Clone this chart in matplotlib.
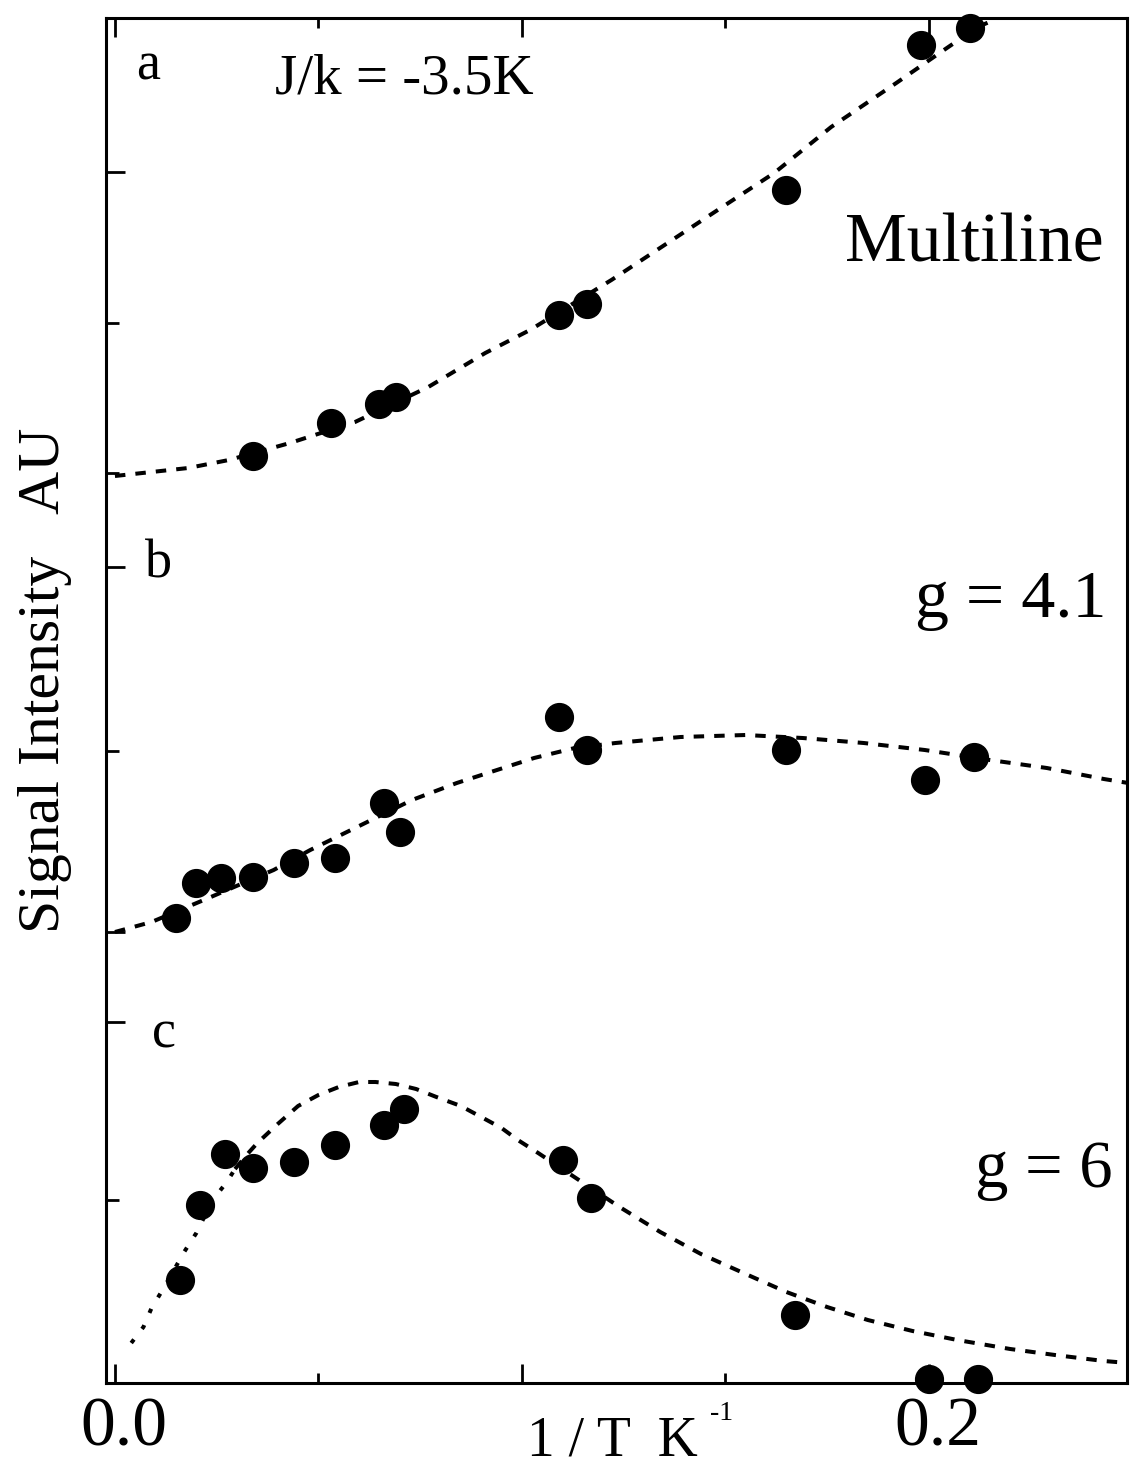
import numpy as np
import matplotlib.pyplot as plt
from matplotlib.transforms import ScaledTranslation

plt.rcParams['font.family'] = ['Liberation Serif', 'DejaVu Serif']

# 1/T (K^-1) and signal intensity above each panel's own baseline
a_x = [0.034, 0.053, 0.065, 0.069, 0.109, 0.116, 0.165, 0.198, 0.210]
a_y = [0.20, 0.53, 0.72, 0.79, 1.61, 1.72, 2.86, 4.31, 4.48]
a_fit_x = [0.0, 0.018, 0.028, 0.043, 0.059, 0.077, 0.091, 0.102, 0.122,
           0.147, 0.162, 0.176, 0.192, 0.203, 0.212, 0.216]
a_fit_y = [0.0, 0.08, 0.16, 0.33, 0.54, 0.89, 1.23, 1.46, 1.96,
           2.63, 3.03, 3.49, 3.93, 4.24, 4.49, 4.56]

b_x = [0.015, 0.020, 0.026, 0.034, 0.044, 0.054, 0.066, 0.070, 0.109,
       0.116, 0.165, 0.199, 0.211]
b_y = [0.14, 0.49, 0.54, 0.55, 0.69, 0.74, 1.29, 1.00, 2.15,
       1.82, 1.82, 1.52, 1.75]
b_fit_x = [0.0, 0.009, 0.023, 0.039, 0.048, 0.059, 0.073, 0.084, 0.103, 0.113,
           0.123, 0.139, 0.155, 0.169, 0.184, 0.199, 0.215, 0.229, 0.243, 0.249]
b_fit_y = [0.0, 0.10, 0.34, 0.62, 0.82, 1.04, 1.32, 1.49, 1.74, 1.84,
           1.89, 1.95, 1.97, 1.94, 1.89, 1.82, 1.72, 1.64, 1.53, 1.49]

c_x = [0.016, 0.021, 0.027, 0.034, 0.044, 0.054, 0.066, 0.071, 0.110,
       0.117, 0.167, 0.200, 0.212]
c_y = [1.03, 1.78, 2.29, 2.15, 2.21, 2.38, 2.58, 2.74, 2.23,
       1.85, 0.68, 0.04, 0.04]
c_fit_x = [0.004, 0.007, 0.009, 0.012, 0.017, 0.020, 0.024, 0.0275, 0.0295,
           0.033, 0.035, 0.040, 0.045, 0.050, 0.055, 0.060, 0.064, 0.069,
           0.074, 0.079, 0.085, 0.090, 0.095, 0.099, 0.104, 0.114, 0.124,
           0.134, 0.144, 0.155, 0.165, 0.175, 0.185, 0.196, 0.207, 0.220,
           0.231, 0.243, 0.249]
c_fit_y = [0.40, 0.56, 0.75, 0.95, 1.31, 1.50, 1.83, 2.01, 2.14,
           2.31, 2.40, 2.59, 2.77, 2.88, 2.96, 3.01, 3.01, 2.99,
           2.94, 2.86, 2.77, 2.66, 2.55, 2.43, 2.30, 2.03, 1.76,
           1.51, 1.29, 1.09, 0.91, 0.76, 0.63, 0.52, 0.43, 0.34,
           0.28, 0.22, 0.20]
c_dotted_end = 9  # the steep start of the g = 6 fit is drawn dotted

baselines = {'a': 9.07, 'b': 4.51, 'c': 0.0}

y_major = [12.11, 8.16, 4.51, 3.61]
y_minor = [10.60, 9.10, 6.32, 1.83]

W, H = 1131, 1467
fig = plt.figure(figsize=(W / 100, H / 100), dpi=100)
ax = fig.add_axes([106 / W, 1 - 1383 / H, (1127 - 106) / W, (1383 - 18) / H])


def px(x, y):
    return x / W, 1 - y / H


dash = dict(color='black', lw=2.9, dashes=(2.6, 2.5))
dots = dict(color='black', lw=2.9, dashes=(1.1, 3.3))
marker = dict(ls='none', marker='o', ms=20, color='black', clip_on=False)

ax.plot(a_fit_x, np.array(a_fit_y) + baselines['a'], **dash)
ax.plot(a_x, np.array(a_y) + baselines['a'], **marker)

ax.plot(b_fit_x, np.array(b_fit_y) + baselines['b'], **dash)
ax.plot(b_x, np.array(b_y) + baselines['b'], **marker)

c_fx = np.array(c_fit_x)
c_fy = np.array(c_fit_y) + baselines['c']
ax.plot(c_fx[:c_dotted_end], c_fy[:c_dotted_end], **dots)
ax.plot(c_fx[c_dotted_end - 1:], c_fy[c_dotted_end - 1:], **dash)
ax.plot(c_x, np.array(c_y) + baselines['c'], **marker)

ax.set_xlim(-0.0022, 0.2487)
ax.set_ylim(0, 13.65)

ax.set_xticks([0.0, 0.1, 0.2])
ax.set_xticklabels(['0.0', '', '0.2'])
ax.set_xticks([0.05, 0.15], minor=True)
ax.set_yticks(y_major)
ax.set_yticks(y_minor, minor=True)
ax.tick_params(axis='x', which='major', direction='in', length=14, width=2,
               top=True, labelsize=50, pad=10)
ax.tick_params(axis='x', which='minor', direction='in', length=7, width=2,
               top=True)
ax.tick_params(axis='y', which='major', direction='in', length=14, width=2,
               labelleft=False)
ax.tick_params(axis='y', which='minor', direction='in', length=9, width=2)
for s in ax.spines.values():
    s.set_linewidth(2.2)

# tick labels sit a little to the right of their ticks
shift = ScaledTranslation(9 / 100, 0, fig.dpi_scale_trans)
for lab in ax.get_xticklabels():
    lab.set_transform(lab.get_transform() + shift)

fig.text(*px(136, 79), 'a', fontsize=39)
fig.text(*px(275, 94), 'J/k = -3.5K', fontsize=41)
fig.text(*px(845, 262), 'Multiline', fontsize=50)
fig.text(*px(145, 578), 'b', fontsize=39)
fig.text(*px(915, 617), 'g = 4.1', fontsize=49)
fig.text(*px(152, 1048), 'c', fontsize=39)
fig.text(*px(975, 1187), 'g = 6', fontsize=48)

fig.text(*px(45, 680), 'Signal Intensity   AU', fontsize=43, rotation=90,
         ha='center', va='center')
fig.text(*px(527, 1456), '1 / T  K', fontsize=40)
fig.text(*px(710, 1420), '-1', fontsize=20)

fig.savefig('out.png', dpi=100)
